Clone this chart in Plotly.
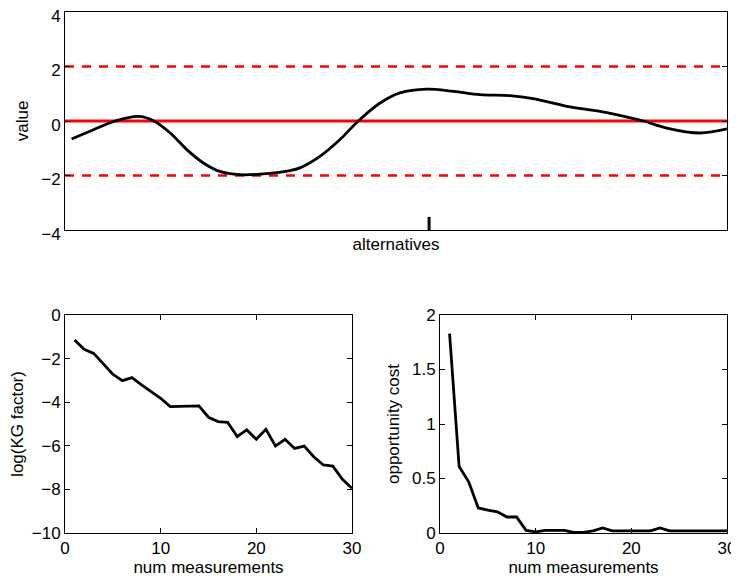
import plotly.graph_objects as go

# ---- Top panel: value across alternatives ----
alt_x = [1.0, 4.3, 7.6, 11.1, 13.3, 15.9, 18.4, 20.9, 23.4, 26.4, 29.5, 34.0,
         35.5, 38.5, 41.5, 44.3, 47.6, 50.6, 54.6, 58.7, 62.7, 67.2, 70.7,
         75.8, 80.8, 84.8, 87.4, 90.9, 95.9, 100.0]
alt_value = [-0.66, -0.32, 0.0, 0.17, 0.02, -0.44, -1.05, -1.54, -1.85, -1.97,
             -1.95, -1.82, -1.72, -1.30, -0.69, 0.0, 0.66, 1.03, 1.17, 1.09,
             0.97, 0.93, 0.82, 0.54, 0.35, 0.15, 0.0, -0.26, -0.44, -0.29]
ref_x = [0, 100]
ref_mean = [0, 0]
ref_upper = [2, 2]
ref_lower = [-2, -2]
chosen_alt = 55.0
chosen_mark = [-4, -3.52]

# ---- Bottom panels ----
num_meas = list(range(1, 31))
log_kg = [-1.15, -1.57, -1.76, -2.22, -2.72, -3.01, -2.87, -3.21, -3.52, -3.82,
          -4.20, -4.20, -4.20, -4.17, -4.69, -4.89, -4.92, -5.58, -5.27, -5.70,
          -5.24, -6.01, -5.70, -6.12, -6.01, -6.50, -6.88, -6.93, -7.54, -7.95]
opp_cost = [1.83, 0.61, 0.47, 0.23, 0.21, 0.195, 0.147, 0.147, 0.024, 0.01,
            0.024, 0.024, 0.024, 0.005, 0.005, 0.02, 0.046, 0.02, 0.02, 0.02,
            0.02, 0.02, 0.046, 0.02, 0.02, 0.02, 0.02, 0.02, 0.02, 0.02]

# page body has an 8px margin; the figure is sized to fill the rest of the window
OFF = 8
W, H = 739 - OFF, 577 - OFF
FONT = "Liberation Sans, Arial, sans-serif"
FS = 17

def px_x(a, b):
    return [(a - OFF) / W, (b - OFF) / W]

def px_y(top, bottom):
    return [1 - (bottom - OFF) / H, 1 - (top - OFF) / H]

fig = go.Figure()

# top panel traces
fig.add_trace(go.Scatter(x=ref_x, y=ref_upper, mode="lines",
                         line=dict(color="#ff0000", width=2.5, dash="9px,8px"),
                         xaxis="x", yaxis="y", showlegend=False))
fig.add_trace(go.Scatter(x=ref_x, y=ref_lower, mode="lines",
                         line=dict(color="#ff0000", width=2.5, dash="9px,8px"),
                         xaxis="x", yaxis="y", showlegend=False))
fig.add_trace(go.Scatter(x=ref_x, y=ref_mean, mode="lines",
                         line=dict(color="#ff0000", width=3),
                         xaxis="x", yaxis="y", showlegend=False))
fig.add_trace(go.Scatter(x=alt_x, y=alt_value, mode="lines",
                         line=dict(color="black", width=2.8, shape="spline", smoothing=1.0),
                         xaxis="x", yaxis="y", showlegend=False))
fig.add_trace(go.Scatter(x=[chosen_alt, chosen_alt], y=chosen_mark, mode="lines",
                         line=dict(color="black", width=3),
                         xaxis="x", yaxis="y", showlegend=False))

# bottom-left
fig.add_trace(go.Scatter(x=num_meas, y=log_kg, mode="lines",
                         line=dict(color="black", width=2.8),
                         xaxis="x2", yaxis="y2", showlegend=False))
# bottom-right
fig.add_trace(go.Scatter(x=num_meas, y=opp_cost, mode="lines",
                         line=dict(color="black", width=2.8),
                         xaxis="x3", yaxis="y3", showlegend=False))

axis_common = dict(showline=True, mirror="ticks", linecolor="black", linewidth=1,
                   ticks="inside", ticklen=5, tickcolor="black", tickwidth=1,
                   showgrid=False, zeroline=False, ticklabeloverflow="allow",
                   tickfont=dict(family=FONT, size=FS, color="black"))

def ttl(text, standoff):
    return dict(text=text, standoff=standoff,
                font=dict(family=FONT, size=FS, color="black"))

fig.update_layout(
    width=W, height=H,
    margin=dict(l=0, r=0, t=0, b=0, autoexpand=False),
    paper_bgcolor="white", plot_bgcolor="white",
    font=dict(family=FONT, size=FS, color="black"),
    xaxis=dict(domain=px_x(65, 727), range=[0, 100], anchor="y",
               showline=True, mirror=True, linecolor="black", linewidth=1,
               ticks="", showticklabels=False, showgrid=False, zeroline=False,
               title=ttl("alternatives", 8)),
    yaxis=dict(domain=px_y(12, 230), range=[-4, 4], anchor="x",
               tickvals=[-4, -2, 0, 2, 4], ticklabelshift=4,
               title=ttl("value", 8),
               **axis_common),
    xaxis2=dict(domain=px_x(65, 352), range=[0, 30], anchor="y2",
                tickvals=[0, 10, 20, 30],
                title=ttl("num measurements", 0),
                **axis_common),
    yaxis2=dict(domain=px_y(315, 533), range=[-10, 0], anchor="x2",
                tickvals=[-10, -8, -6, -4, -2, 0],
                title=ttl("log(KG factor)", 8),
                **axis_common),
    xaxis3=dict(domain=px_x(440, 727), range=[0, 30], anchor="y3",
                tickvals=[0, 10, 20, 30],
                title=ttl("num measurements", 0),
                **axis_common),
    yaxis3=dict(domain=px_y(315, 533), range=[0, 2], anchor="x3",
                tickvals=[0, 0.5, 1, 1.5, 2],
                title=ttl("opportunity cost", 8),
                **axis_common),
)

fig.write_html("out.html")
